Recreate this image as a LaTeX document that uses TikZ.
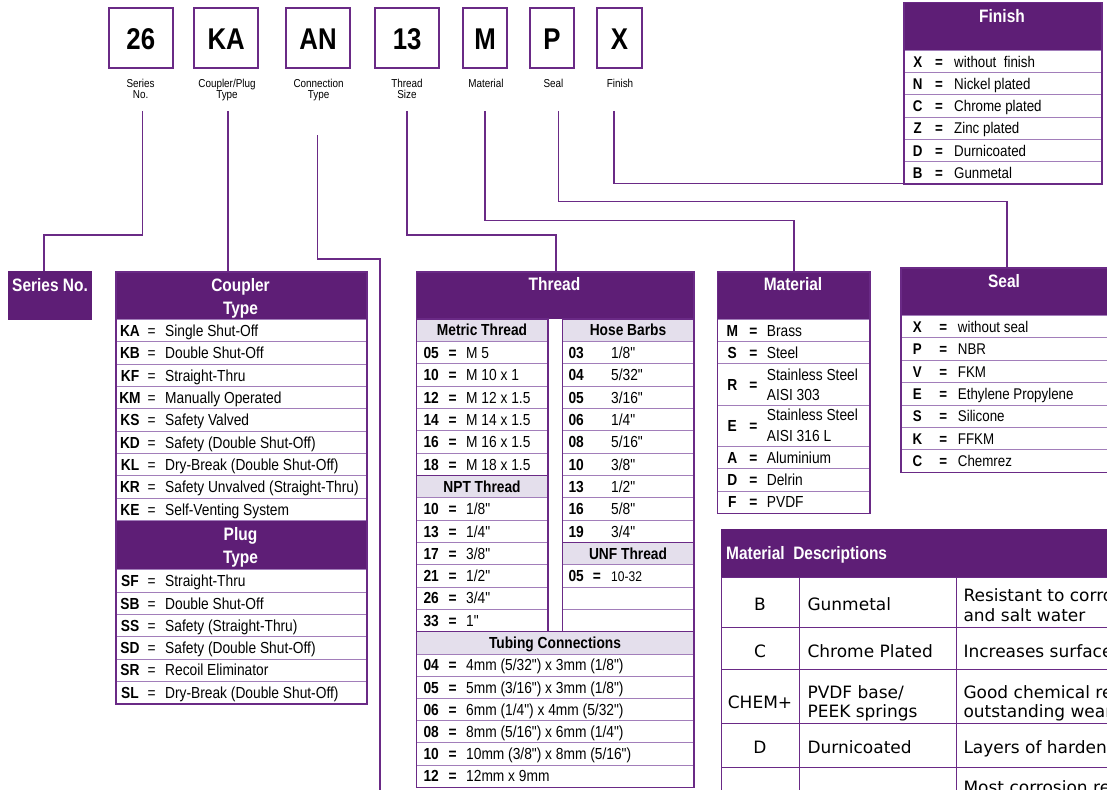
\documentclass[tikz,border=0pt]{standalone}
\usepackage{fontspec}
\setmainfont{Liberation Sans}[FakeStretch=0.86]
\newfontfamily\cond{Liberation Sans}[FakeStretch=0.86]
\newfontfamily\din{DejaVu Sans}
\definecolor{hdr}{HTML}{5E1E76}
\definecolor{ln}{HTML}{6A2A86}
\definecolor{lt}{HTML}{A27EBA}
\definecolor{sub}{HTML}{E4DFEC}
\def\rfs{16}
\def\bl{5.7}
\tikzset{
 conn/.style={draw=ln, line width=1.4pt},
 codebox/.style={draw=ln, line width=2pt, fill=white, inner sep=0},
 codetxt/.style={font=\cond\fontsize{30}{30}\selectfont\bfseries, inner sep=0, anchor=base},
 lab/.style={font=\cond\fontsize{11.5}{11.7}\selectfont, align=center, inner sep=0, anchor=base},
 hdrbox/.style={fill=hdr, draw=hdr, line width=0.6pt, inner sep=0, anchor=north west},
 hdrt/.style={font=\cond\fontsize{18}{22.5}\selectfont\bfseries, text=white, inner sep=0, anchor=base},
 rowbox/.style={draw=lt, line width=1pt, fill=white, inner sep=0, anchor=north west},
 subbox/.style={draw=ln, line width=1pt, fill=sub, inner sep=0, anchor=north west},
 frame/.style={draw=ln, line width=1.5pt, inner sep=0, anchor=north west},
 ct/.style={font=\cond\fontsize{\rfs}{\rfs}\selectfont\bfseries, inner sep=0},
 et/.style={font=\cond\fontsize{\rfs}{\rfs}\selectfont\bfseries, inner sep=0, anchor=base},
 vt/.style={font=\cond\fontsize{\rfs}{\rfs}\selectfont, inner sep=0, anchor=base west},
 mdcell/.style={draw=ln, line width=1pt, fill=white, inner sep=0, anchor=north west},
 mdt/.style={font=\din\fontsize{17}{17}\selectfont, inner sep=0},
}
% name, x, y, w, code, text
\newcommand\RowT[6]{%
 \node[rowbox, minimum width=#4pt, minimum height=\rh pt] (#1) at (#2,{#3}) {};
 \node[ct, anchor=\cAnc] (#1-c) at ([xshift=\cX pt, yshift=-\bl pt]#1.west) {#5};
 \ifx\eX\empty\else\node[et] (#1-e) at ([xshift=\eX pt, yshift=-\bl pt]#1.west) {=};\fi
 \node[vt] (#1-t) at ([xshift=\tX pt, yshift=-\bl pt]#1.west) {#6};
}
\begin{document}
\begin{tikzpicture}[x=1pt,y=-1pt]
\useasboundingbox (0,0) rectangle (1107,789);
\clip (0,0) rectangle (1107,789);

% ---------- top code boxes ----------
\foreach \n/\cx/\w/\t in {b26/140.8/64.4/26, bKA/226.2/63.6/KA, bAN/318/64.4/AN, b13/407.2/64.4/13, bM/485/44/M, bP/552/44/P, bX/619.5/45/X} {
 \node[codebox, minimum width=\w pt, minimum height=59.5pt, anchor=north] (\n) at (\cx,7.5) {};
 \node[codetxt] (\n-t) at (\cx,50) {\t};
}
\node[lab] (l26) at (140.6,99) {Series\\No.};
\node[lab] (lKA) at (227,99) {Coupler/Plug\\Type};
\node[lab] (lAN) at (318.6,99) {Connection\\Type};
\node[lab] (l13) at (407,99) {Thread\\Size};
\node[lab] (lM) at (486,87.3) {Material};
\node[lab] (lP) at (553.5,87.3) {Seal};
\node[lab] (lX) at (620,87.3) {Finish};

% ---------- headers ----------
\node[hdrbox, minimum width=83pt, minimum height=48pt] (series) at (8,271) {};
\node[hdrt, anchor=base west] (seriesT) at (12,291.5) {Series No.};
\node[hdrbox, minimum width=251pt, minimum height=48pt] (coupler) at (115,271) {};
\node[hdrt] (couplerT1) at (240.5,291.5) {Coupler};
\node[hdrt] (couplerT2) at (240.5,314) {Type};
\node[hdrbox, minimum width=251pt, minimum height=49.3pt] (plug) at (115,520) {};
\node[hdrt] (plugT1) at (240.5,540.5) {Plug};
\node[hdrt] (plugT2) at (240.5,563) {Type};
\node[hdrbox, minimum width=277.6pt, minimum height=47.3pt] (thread) at (415.7,271) {};
\node[hdrt] (threadT) at (554.5,290.5) {Thread};
\node[hdrbox, minimum width=152.6pt, minimum height=48pt] (material) at (716.7,271) {};
\node[hdrt] (materialT) at (793,290.5) {Material};
\node[hdrbox, minimum width=212pt, minimum height=48pt] (seal) at (900,267) {};
\node[hdrt] (sealT) at (1004,287) {Seal};
\node[hdrbox, minimum width=198pt, minimum height=47.7pt] (finish) at (903,2) {};
\node[hdrt] (finishT) at (1002,22.5) {Finish};

% ---------- coupler / plug rows ----------
\begin{scope}[et/.style={font=\cond\fontsize{\rfs}{\rfs}\selectfont, inner sep=0, anchor=base}]
\def\cAnc{base}\def\cX{15}\def\eX{36.7}\def\tX{50}\def\rh{22.33}
\foreach \c/\t [count=\i from 0] in {KA/Single Shut-Off, KB/Double Shut-Off, KF/Straight-Thru, KM/Manually Operated, KS/Safety Valved, KD/Safety (Double Shut-Off), KL/Dry-Break (Double Shut-Off), KR/Safety Unvalved (Straight-Thru), KE/Self-Venting System}
 {\RowT{cp\c}{115}{319+\i*22.33}{251}{\c}{\t}}
\foreach \c/\t [count=\i from 0] in {SF/Straight-Thru, SB/Double Shut-Off, SS/Safety (Straight-Thru), SD/Safety (Double Shut-Off), SR/Recoil Eliminator, SL/Dry-Break (Double Shut-Off)}
 {\RowT{pl\c}{115}{569.3+\i*22.33}{251}{\c}{\t}}
\end{scope}
\node[frame, minimum width=251pt, minimum height=432.3pt] (couplerF) at (115,271) {};

% ---------- thread ----------
\def\rh{22.33}
\node[subbox, minimum width=131.6pt, minimum height=22.7pt] (metricH) at (415.7,318.3) {};
\node[ct, anchor=base] (metricHT) at ([yshift=-\bl pt]metricH.center) {Metric Thread};
\def\cAnc{base west}\def\cX{7.6}\def\eX{37}\def\tX{50.3}
\foreach \c/\t [count=\i from 0] in {05/M 5, 10/M 10 x 1, 12/M 12 x 1.5, 14/M 14 x 1.5, 16/M 16 x 1.5, 18/M 18 x 1.5}
 {\RowT{tm\c}{415.7}{341+\i*22.33}{131.6}{\c}{\t}}
\node[subbox, minimum width=131.6pt, minimum height=22.33pt] (nptH) at (415.7,475) {};
\node[ct, anchor=base] (nptHT) at ([yshift=-\bl pt]nptH.center) {NPT Thread};
\foreach \c/\t [count=\i from 0] in {10/{1/8"}, 13/{1/4"}, 17/{3/8"}, 21/{1/2"}, 26/{3/4"}, 33/{1"}}
 {\RowT{tn\c}{415.7}{497.3+\i*22.33}{131.6}{\c}{\t}}
\node[subbox, minimum width=131.6pt, minimum height=22.7pt] (hoseH) at (561.7,318.3) {};
\node[ct, anchor=base] (hoseHT) at ([yshift=-\bl pt]hoseH.center) {Hose Barbs};
\def\cX{6.6}\def\eX{}\def\tX{49.3}
\foreach \c/\t [count=\i from 0] in {03/{1/8"}, 04/{5/32"}, 05/{3/16"}, 06/{1/4"}, 08/{5/16"}, 10/{3/8"}, 13/{1/2"}, 16/{5/8"}, 19/{3/4"}}
 {\RowT{th\c}{561.7}{341+\i*22.33}{131.6}{\c}{\t}}
\node[subbox, minimum width=131.6pt, minimum height=22.33pt] (unfH) at (561.7,542) {};
\node[ct, anchor=base] (unfHT) at ([yshift=-\bl pt]unfH.center) {UNF Thread};
\node[rowbox, minimum width=131.6pt, minimum height=22.33pt] (tu05) at (561.7,564.3) {};
\node[ct, anchor=base west] (tu05-c) at ([xshift=6.6pt, yshift=-\bl pt]tu05.west) {05};
\node[et] (tu05-e) at ([xshift=35.3pt, yshift=-\bl pt]tu05.west) {=};
\node[vt, font=\cond\fontsize{14}{14}\selectfont] (tu05-t) at ([xshift=49.3pt, yshift=-\bl pt]tu05.west) {10-32};
\node[rowbox, minimum width=131.6pt, minimum height=22.33pt] (tue1) at (561.7,586.6) {};
\node[rowbox, minimum width=131.6pt, minimum height=22.33pt] (tue2) at (561.7,608.9) {};
\node[frame, line width=1.2pt, minimum width=131.6pt, minimum height=313pt] (leftF) at (415.7,318.3) {};
\node[frame, line width=1.2pt, minimum width=131.6pt, minimum height=313pt] (rightF) at (561.7,318.3) {};
\node[subbox, minimum width=277.6pt, minimum height=22.33pt] (tubeH) at (415.7,631.3) {};
\node[ct, anchor=base] (tubeHT) at ([yshift=-\bl pt]tubeH.center) {Tubing Connections};
\def\cX{7.6}\def\eX{37}\def\tX{50.3}\def\rh{22.2}
\foreach \c/\t [count=\i from 0] in {04/{4mm (5/32") x 3mm (1/8")}, 05/{5mm (3/16") x 3mm (1/8")}, 06/{6mm (1/4") x 4mm (5/32")}, 08/{8mm (5/16") x 6mm (1/4")}, 10/{10mm (3/8") x 8mm (5/16")}, 12/{12mm x 9mm}}
 {\RowT{tt\c}{415.7}{653.6+\i*22.2}{277.6}{\c}{\t}}
\node[frame, minimum width=277.6pt, minimum height=515.8pt] (threadF) at (415.7,271) {};

% ---------- material ----------
\def\cAnc{base}\def\cX{15.6}\def\eX{36.6}\def\tX{50}
\def\rh{22}\RowT{mM}{716.7}{319}{152.6}{M}{Brass}
\def\rh{22.3}\RowT{mS}{716.7}{341}{152.6}{S}{Steel}
\node[rowbox, minimum width=152.6pt, minimum height=41.7pt] (mR) at (716.7,363.3) {};
\node[ct, anchor=base] (mR-c) at (732.3,390.5) {R};
\node[et] (mR-e) at (753.3,390.5) {=};
\node[vt] (mR-t1) at (766.7,380.7) {Stainless Steel};
\node[vt] (mR-t2) at (766.7,400) {AISI 303};
\node[rowbox, minimum width=152.6pt, minimum height=41pt] (mE) at (716.7,405) {};
\node[ct, anchor=base] (mE-c) at (732.3,431.5) {E};
\node[et] (mE-e) at (753.3,431.5) {=};
\node[vt] (mE-t1) at (766.7,420.7) {Stainless Steel};
\node[vt] (mE-t2) at (766.7,441.4) {AISI 316 L};
\def\rh{22.3}\RowT{mA}{716.7}{446}{152.6}{A}{Aluminium}
\def\rh{22.4}\RowT{mD}{716.7}{468.3}{152.6}{D}{Delrin}
\def\rh{22}\RowT{mF}{716.7}{490.7}{152.6}{F}{PVDF}
\node[frame, minimum width=152.6pt, minimum height=241.7pt] (materialF) at (716.7,271) {};

% ---------- seal ----------
\def\rfs{15.5}
\def\cX{17.3}\def\eX{43.3}\def\tX{57.7}\def\rh{22.38}
\foreach \c/\t [count=\i from 0] in {X/without seal, P/NBR, V/FKM, E/Ethylene Propylene, S/Silicone, K/FFKM, C/Chemrez}
 {\RowT{se\c}{900}{315+\i*22.38}{212}{\c}{\t}}
\node[frame, minimum width=212pt, minimum height=204.7pt] (sealF) at (900,267) {};

% ---------- finish ----------
\def\cX{14.7}\def\eX{36}\def\tX{51}\def\rh{22.27}
\foreach \c/\t [count=\i from 0] in {X/without\ \ finish, N/Nickel plated, C/Chrome plated, Z/Zinc plated, D/Durnicoated, B/Gunmetal}
 {\RowT{fi\c}{903}{49.7+\i*22.27}{198}{\c}{\t}}
\node[frame, minimum width=198pt, minimum height=181.3pt] (finishF) at (903,2) {};

% ---------- material descriptions ----------
\node[hdrbox, minimum width=392pt, minimum height=48pt] (mdesc) at (720.7,529.3) {};
\node[hdrt, anchor=base west] (mdescT) at (726,559.7) {Material\ \ Descriptions};
\foreach \r/\y/\h in {1/577.3/49.4, 2/626.7/42.3, 3/669/54.3, 4/723.3/43.4, 5/766.7/40} {
 \node[mdcell, minimum width=78.6pt, minimum height=\h pt] (mdA\r) at (720.7,\y) {};
 \node[mdcell, minimum width=156.4pt, minimum height=\h pt] (mdB\r) at (799.3,\y) {};
 \node[mdcell, minimum width=160pt, minimum height=\h pt] (mdC\r) at (955.7,\y) {};
}
\node[mdt, anchor=base] (md1a) at (760,610) {B};
\node[mdt, anchor=base west] (md1b) at (807.3,610) {Gunmetal};
\node[mdt, anchor=base west] (md1c1) at (963.3,601.5) {Resistant to corro};
\node[mdt, anchor=base west] (md1c2) at (963.3,621) {and salt water};
\node[mdt, anchor=base] (md2a) at (760,657.3) {C};
\node[mdt, anchor=base west] (md2b) at (807.3,657.3) {Chrome Plated};
\node[mdt, anchor=base west] (md2c) at (963.3,657.3) {Increases surface};
\node[mdt, anchor=base] (md3a) at (760,708.3) {CHEM+};
\node[mdt, anchor=base west] (md3b1) at (807.3,698.3) {PVDF base/};
\node[mdt, anchor=base west] (md3b2) at (807.3,717.7) {PEEK springs};
\node[mdt, anchor=base west] (md3c1) at (963.3,698.3) {Good chemical re};
\node[mdt, anchor=base west] (md3c2) at (963.3,717.7) {outstanding wear};
\node[mdt, anchor=base] (md4a) at (760,753.3) {D};
\node[mdt, anchor=base west] (md4b) at (807.3,753.3) {Durnicoated};
\node[mdt, anchor=base west] (md4c) at (963.3,753.3) {Layers of hardene};
\node[mdt, anchor=base west] (md5c) at (963.3,793) {Most corrosion re};

% ---------- connectors ----------
\coordinate (s26) at (142.7,111);
\coordinate (sKA) at (228,111);
\coordinate (sAN) at (317.5,135);
\coordinate (s13) at (407,111);
\coordinate (sM) at (485,111);
\coordinate (sP) at (558.7,111);
\coordinate (sX) at (614,111);
\coordinate (eAN) at (380,795);
\draw[conn] (s26) -- ++(0,124) -| ([xshift=36pt]series.north west);
\draw[conn] (sKA) -- (sKA |- coupler.north);
\draw[conn] (sAN) -- ++(0,124) -| (eAN);
\draw[conn] (s13) -- ++(0,124) -| ([xshift=140.3pt]thread.north west);
\draw[conn] (sM) -- ++(0,109.7) -| ([xshift=77.3pt]material.north west);
\draw[conn] (sP) -- ++(0,90.7) -| ([xshift=107pt]seal.north west);
\draw[conn] (sX) |- ([yshift=1.5pt]finishF.south west);
\end{tikzpicture}
\end{document}
